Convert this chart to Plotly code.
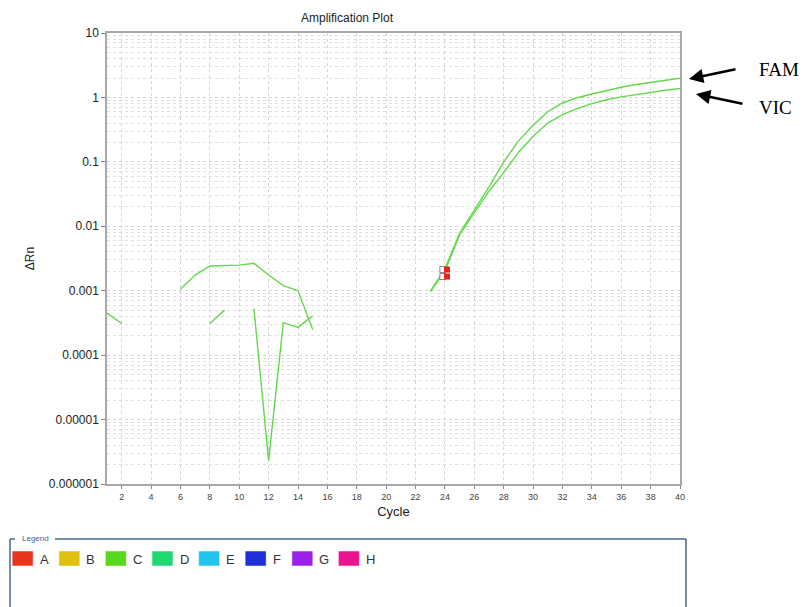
import plotly.graph_objects as go

# ---- data -------------------------------------------------------------
cycles = list(range(1, 41))

# Delta Rn per cycle; None where the value is not positive (not drawn on log axis)
fam_drn = [4.5e-4, 3.1e-4, None, None, None, 1.05e-3, 1.75e-3, 2.42e-3, 2.45e-3, 2.5e-3,
           2.66e-3, 1.75e-3, 1.2e-3, 1.0e-3, 2.5e-4, None, None, None, None, None,
           None, None, 9.7e-4, 2.2e-3, 7.8e-3, 0.018, 0.041, 0.10, 0.21, 0.37,
           0.60, 0.82, 0.99, 1.13, 1.28, 1.44, 1.59, 1.72, 1.85, 1.98]
vic_drn = [None, None, None, None, None, None, None, 3.1e-4, 5.0e-4, None,
           5.3e-4, 2.3e-6, 3.2e-4, 2.7e-4, 4.05e-4, None, None, None, None, None,
           None, None, 9.7e-4, 2.0e-3, 7.4e-3, 0.016, 0.035, 0.068, 0.14, 0.25,
           0.40, 0.54, 0.67, 0.80, 0.92, 1.02, 1.11, 1.20, 1.29, 1.38]

ct_cycle = [24, 24]
ct_values = [2.13e-3, 1.66e-3]

x_ticks = list(range(2, 41, 2))
y_tickvals = [10, 1, 0.1, 0.01, 0.001, 0.0001, 0.00001, 0.000001]
y_ticktext = ["10", "1", "0.1", "0.01", "0.001", "0.0001", "0.00001", "0.000001"]

legend_names = ["A", "B", "C", "D", "E", "F", "G", "H"]
legend_colors = ["#e8361c", "#e0c010", "#55d81e", "#20d870", "#22c4ec", "#2030d8", "#9a22e8", "#e81490"]

dye_labels = ["FAM", "VIC"]

# ---- layout geometry (pixels) -------------------------------------------
W, H = 804, 607
L, R, T, B = 107, 680, 33, 484
PW, PH = R - L, B - T


def xp(px):
    return (px - L) / PW


def yp(py):
    return (B - py) / PH


line_green = "#62d84a"

fig = go.Figure()
for vals in (fam_drn, vic_drn):
    fig.add_trace(go.Scatter(x=cycles, y=vals, mode="lines", connectgaps=False,
                             line=dict(color=line_green, width=1.4),
                             showlegend=False, hoverinfo="skip"))

# Ct markers
fig.add_trace(go.Scatter(x=[c - 0.14 for c in ct_cycle], y=ct_values, mode="markers",
                         marker=dict(symbol="square", size=6, color="white",
                                     line=dict(color="#888888", width=1)),
                         showlegend=False, hoverinfo="skip"))
fig.add_trace(go.Scatter(x=[c + 0.14 for c in ct_cycle], y=ct_values, mode="markers",
                         marker=dict(symbol="square", size=6, color="#e82020",
                                     line=dict(color="#e82020", width=0)),
                         showlegend=False, hoverinfo="skip"))

font_main = "Liberation Sans, Arial, sans-serif"

fig.update_layout(
    width=W, height=H,
    margin=dict(l=L, r=W - R, t=T, b=H - B, autoexpand=False),
    paper_bgcolor="white", plot_bgcolor="white",
    font=dict(family=font_main, color="#222222"),
    showlegend=False,
)

fig.update_xaxes(
    range=[1, 40], tickvals=x_ticks, ticks="outside", ticklen=3, tickcolor="#888888",
    tickfont=dict(size=9, color="#444444"),
    showline=True, linecolor="#a8a8a8", linewidth=1.5, mirror=True,
    showgrid=True, gridcolor="#d6d6d6", griddash="dot", gridwidth=1,
    zeroline=False,
    title=dict(text="Cycle", font=dict(size=13, color="#222222"), standoff=6),
)
fig.update_yaxes(
    type="log", range=[-6, 1], tickvals=y_tickvals, ticktext=y_ticktext,
    ticks="outside", ticklen=4, tickcolor="#888888",
    tickfont=dict(size=12, color="#222222"),
    showline=True, linecolor="#a8a8a8", linewidth=1.5, mirror=True,
    showgrid=True, gridcolor="#d2d2d2", griddash="dot", gridwidth=1,
    minor=dict(dtick="D1", showgrid=True, gridcolor="#e0e0e0", griddash="dot", ticks=""),
    zeroline=False,
    title=dict(text="ΔRn", font=dict(size=12, color="#222222"), standoff=12),
)

annotations = []
shapes = []

# chart title
annotations.append(dict(text="Amplification Plot", x=xp(347), y=yp(18), xref="paper", yref="paper",
                        showarrow=False, font=dict(size=12, color="#222222"),
                        xanchor="center", yanchor="middle"))

# dye arrows and labels
arrow_specs = [((689, 79), (737, 69), (757, 69)),
               ((696, 94), (744, 104), (757, 108))]
for name, (head, tail, txt) in zip(dye_labels, arrow_specs):
    annotations.append(dict(text="", x=xp(head[0]), y=yp(head[1]), xref="paper", yref="paper",
                            ax=tail[0] - head[0], ay=tail[1] - head[1], axref="pixel", ayref="pixel",
                            showarrow=True, arrowhead=2, arrowsize=1.1, arrowwidth=2.6,
                            arrowcolor="#000000"))
    annotations.append(dict(text=name, x=xp(txt[0]), y=yp(txt[1]), xref="paper", yref="paper",
                            showarrow=False, xanchor="left", yanchor="middle",
                            font=dict(family="Liberation Serif, Times New Roman, serif",
                                      size=19, color="#000000")))

# legend frame
frame_color = "#4a6688"
shapes.append(dict(type="line", xref="paper", yref="paper", x0=xp(10), x1=xp(15), y0=yp(539), y1=yp(539),
                   line=dict(color=frame_color, width=1.5)))
shapes.append(dict(type="line", xref="paper", yref="paper", x0=xp(55), x1=xp(686), y0=yp(539), y1=yp(539),
                   line=dict(color=frame_color, width=1.5)))
shapes.append(dict(type="line", xref="paper", yref="paper", x0=xp(10), x1=xp(10), y0=yp(539), y1=yp(610),
                   line=dict(color=frame_color, width=1.5)))
shapes.append(dict(type="line", xref="paper", yref="paper", x0=xp(686), x1=xp(686), y0=yp(539), y1=yp(610),
                   line=dict(color=frame_color, width=1.5)))
annotations.append(dict(text="Legend", x=xp(20), y=yp(538), xref="paper", yref="paper",
                        showarrow=False, xanchor="left", yanchor="middle",
                        font=dict(size=8, color="#3a62a8")))

for i, (nm, col) in enumerate(zip(legend_names, legend_colors)):
    x0 = 12.7 + i * 46.6
    shapes.append(dict(type="rect", xref="paper", yref="paper",
                       x0=xp(x0), x1=xp(x0 + 20), y0=yp(551.5), y1=yp(565.5),
                       fillcolor=col, line=dict(color=col, width=0.5)))
    annotations.append(dict(text=nm, x=xp(x0 + 25), y=yp(559), xref="paper", yref="paper",
                            showarrow=False, xanchor="left", yanchor="middle",
                            font=dict(size=13, color="#333333")))

fig.update_layout(annotations=annotations, shapes=shapes)

fig.write_html("out.html")
